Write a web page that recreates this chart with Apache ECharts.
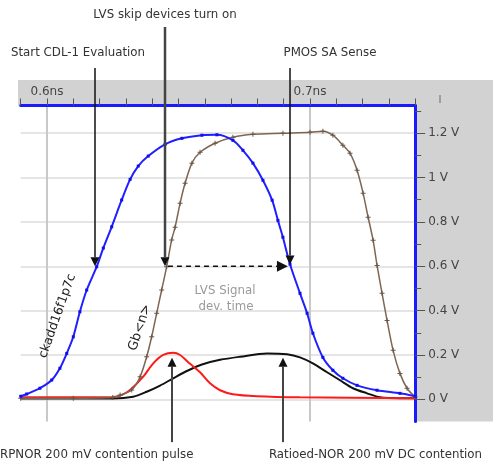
<!DOCTYPE html>
<html><head><meta charset="utf-8">
<script src="https://cdn.jsdelivr.net/npm/echarts@6/dist/echarts.min.js"></script>
<style>html,body{margin:0;padding:0;background:#fff}#c{width:493px;height:466px}</style>
</head><body><div id="c"></div>
<script>
// ---- data (time in ns, voltage in V) ----
const timeMin = 0.59, timeMax = 0.74, timeStep = 0.01;
const voltMin = -0.1, voltMax = 1.325;
const timeLabelTicks = [0.6, 0.7];
const majorVolts = [0, 0.2, 0.4, 0.6, 0.8, 1.0, 1.2];
const minorVolts = [0.1, 0.3, 0.5, 0.7, 0.9, 1.1, 1.3];

const blueCdl = [[0.590,0.014],[0.5923,0.024],[0.5973,0.050],[0.6018,0.087],[0.6049,0.140],[0.6075,0.207],[0.6100,0.282],[0.6125,0.395],[0.6151,0.493],[0.6189,0.598],[0.6214,0.682],[0.6246,0.778],[0.6284,0.899],[0.6316,0.992],[0.6347,1.052],[0.6385,1.097],[0.6449,1.150],[0.6513,1.177],[0.6589,1.191],[0.6646,1.193],[0.6707,1.168],[0.6745,1.123],[0.6783,1.065],[0.6821,0.988],[0.6856,0.898],[0.6878,0.807],[0.6897,0.731],[0.6924,0.609],[0.6962,0.478],[0.6989,0.388],[0.7011,0.298],[0.7049,0.189],[0.7087,0.131],[0.7125,0.095],[0.7179,0.063],[0.7255,0.041],[0.7342,0.027],[0.7400,0.014]];
const brownGb = [[0.590,0.005],[0.6100,0.005],[0.6250,0.008],[0.6278,0.019],[0.6322,0.042],[0.6354,0.102],[0.6379,0.192],[0.6398,0.282],[0.6417,0.388],[0.6436,0.493],[0.6455,0.598],[0.6474,0.719],[0.6487,0.776],[0.6506,0.884],[0.6525,0.974],[0.6551,1.065],[0.6582,1.114],[0.6639,1.155],[0.6707,1.182],[0.6783,1.195],[0.6897,1.200],[0.7000,1.204],[0.7049,1.209],[0.7087,1.191],[0.7125,1.146],[0.7152,1.110],[0.7179,1.033],[0.7202,0.929],[0.7221,0.821],[0.7240,0.717],[0.7255,0.604],[0.7274,0.478],[0.7293,0.356],[0.7316,0.221],[0.7342,0.117],[0.7369,0.050],[0.7400,0.010]];
const redPulse = [[0.590,0.009],[0.6252,0.010],[0.6285,0.020],[0.6316,0.042],[0.6366,0.102],[0.6404,0.162],[0.6442,0.200],[0.6480,0.210],[0.6506,0.200],[0.6544,0.160],[0.6582,0.122],[0.6620,0.072],[0.6658,0.041],[0.6707,0.023],[0.6798,0.014],[0.6962,0.009],[0.7400,0.005]];
const blackDc = [[0.590,0.004],[0.6250,0.004],[0.6328,0.012],[0.6379,0.034],[0.6430,0.062],[0.6480,0.095],[0.6536,0.130],[0.6589,0.157],[0.6658,0.178],[0.6734,0.192],[0.6837,0.207],[0.6913,0.203],[0.6962,0.189],[0.7011,0.162],[0.7065,0.122],[0.7114,0.086],[0.7163,0.050],[0.7217,0.027],[0.7266,0.009],[0.7342,0.005],[0.7400,0.005]];

// annotation anchors: [time, fromVolt, toVolt]
const downArrows = [[0.61825,1.494,0.600],[0.64487,1.679,0.600],[0.6924,1.494,0.608]];
const upArrows = [[0.64753,-0.193,0.188],[0.68973,-0.193,0.188]];
const devTimeArrow = [0.6460,0.6916,0.600];

const FONT = 'DejaVu Sans';
const chart = echarts.init(document.getElementById('c'), null, {renderer:'canvas'});

function fmtVolt(v){ return (Math.round(v*10)/10).toString() + ' V'; }
function fmtTime(v){
  for (const t of timeLabelTicks) if (Math.abs(v - t) < 1e-6) return t.toFixed(1) + 'ns';
  return '';
}
const plusSym = 'path://M1.6,0h0.8v1.6h1.6v0.8h-1.6v1.6h-0.8v-1.6h-1.6v-0.8h1.6z';

chart.setOption({
  animation:false,
  backgroundColor:'#fff',
  grid:{left:20.7, right:77.8, top:105.5, bottom:44.5, containLabel:false},
  xAxis:[{
    type:'value', position:'top', min:timeMin, max:timeMax, interval:timeStep,
    axisLine:{show:true, onZero:false, lineStyle:{color:'#1a1aff', width:3}},
    axisTick:{show:true, inside:false, length:7, lineStyle:{color:'#555', width:1}},
    axisLabel:{formatter:fmtTime, color:'#444', fontSize:12, fontFamily:FONT, margin:8},
    splitLine:{show:false}
  },{
    type:'value', position:'top', min:timeMin, max:timeMax,
    axisLine:{show:false, onZero:false}, axisTick:{show:false, customValues:timeLabelTicks},
    axisLabel:{show:false, customValues:timeLabelTicks},
    splitLine:{show:true, lineStyle:{color:'#c8c8c8', width:2}}
  }],
  yAxis:[{
    type:'value', position:'right', min:voltMin, max:voltMax,
    axisLine:{show:true, onZero:false, lineStyle:{color:'#1a1aff', width:3}},
    axisTick:{show:true, inside:false, length:10, customValues:majorVolts, lineStyle:{color:'#555', width:1}},
    axisLabel:{customValues:majorVolts, formatter:fmtVolt, color:'#444', fontSize:12, fontFamily:FONT, margin:13},
    splitLine:{show:true, lineStyle:{color:'#dcdcdc', width:1.5}}
  },{
    type:'value', position:'right', min:voltMin, max:voltMax,
    axisLine:{show:false, onZero:false},
    axisTick:{show:true, inside:false, length:6, customValues:minorVolts, lineStyle:{color:'#555', width:1}},
    axisLabel:{show:false, customValues:minorVolts},
    splitLine:{show:false}
  }],
  series:[
    {type:'line', name:'DC', data:blackDc, smooth:0.3, showSymbol:false, lineStyle:{color:'#111', width:2}, itemStyle:{color:'#111'}},
    {type:'line', name:'pulse', data:redPulse, smooth:0.3, showSymbol:false, lineStyle:{color:'#ff1a1a', width:2}, itemStyle:{color:'#ff1a1a'}},
    {type:'line', name:'Gb<n>', data:brownGb, smooth:0.3, symbol:plusSym, symbolSize:5, lineStyle:{color:'#7d6653', width:1.5}, itemStyle:{color:'#6b5646'}},
    {type:'line', name:'ckadd16f1p7c', data:blueCdl, smooth:0.3, symbol:'rect', symbolSize:3, lineStyle:{color:'#1f1fff', width:2}, itemStyle:{color:'#1010ee'}}
  ]
});

function P(t,v){ return chart.convertToPixel({xAxisIndex:0, yAxisIndex:0}, [t,v]); }
function arrow(p0, p1, color, width, dash, head){
  const dx = p1[0]-p0[0], dy = p1[1]-p0[1], L = Math.hypot(dx,dy), ux = dx/L, uy = dy/L;
  const h = head || 9, w = h*0.5;
  const bx = p1[0]-ux*h, by = p1[1]-uy*h;
  return [
    {type:'line', z:100, silent:true, shape:{x1:p0[0], y1:p0[1], x2:bx, y2:by}, style:{stroke:color, lineWidth:width, lineDash:dash||null}},
    {type:'polygon', z:100, silent:true, shape:{points:[[p1[0],p1[1]],[bx-uy*w,by+ux*w],[bx+uy*w,by-ux*w]]}, style:{fill:'#111'}}
  ];
}
function txt(x,y,s,opt){
  opt = opt||{};
  return {type:'text', z:100, silent:true, x:x, y:y, rotation:opt.rot||0,
    style:{text:s, fill:opt.color||'#333', font:(opt.size||11.8)+'px "'+FONT+'"', align:opt.align||'center', verticalAlign:'middle'}};
}

let g = [
  {type:'rect', z:-10, silent:true, shape:{x:18, y:80, width:475, height:25.5}, style:{fill:'#d2d2d2'}},
  {type:'rect', z:-10, silent:true, shape:{x:415, y:80, width:78, height:341.5}, style:{fill:'#d2d2d2'}},
  {type:'line', z:5, silent:true, shape:{x1:440, y1:95, x2:440, y2:103}, style:{stroke:'#666', lineWidth:1}}
];
const downStyles = [['#111',1.5],['#444',2.5],['#111',1.5]];
downArrows.forEach((a,i)=>{ g = g.concat(arrow(P(a[0],a[1]), P(a[0],a[2]), downStyles[i][0], downStyles[i][1])); });
upArrows.forEach(a=>{ g = g.concat(arrow(P(a[0],a[1]), P(a[0],a[2]), '#444', 2)); });
g = g.concat(arrow(P(devTimeArrow[0],devTimeArrow[2]), P(devTimeArrow[1],devTimeArrow[2]), '#111', 1.5, [5,4], 11));

g.push(txt(165,15,'LVS skip devices turn on'));
g.push(txt(78,53,'Start CDL-1 Evaluation'));
g.push(txt(330,53,'PMOS SA Sense'));
g.push(txt(0,455,'RPNOR 200 mV contention pulse',{align:'left'}));
g.push(txt(375.5,455,'Ratioed-NOR 200 mV DC contention'));
g.push(txt(225,291,'LVS Signal',{color:'#9a9a9a'}));
g.push(txt(226,307,'dev. time',{color:'#9a9a9a'}));
g.push(txt(57.5,316,'ckadd16f1p7c',{rot:70.4*Math.PI/180, size:12.5, color:'#222'}));
g.push(txt(140,327.5,'Gb<n>',{rot:72*Math.PI/180, size:13, color:'#222'}));

chart.setOption({graphic:g});
</script></body></html>
